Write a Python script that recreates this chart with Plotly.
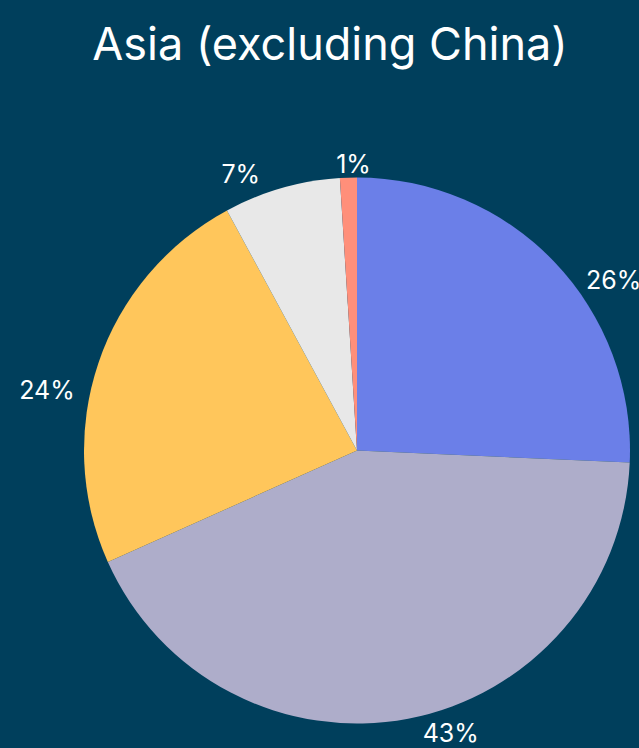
import plotly.graph_objects as go

labels = ["A", "B", "C", "D", "E"]
values = [25.7, 42.6, 23.8, 6.9, 1.0]
colors = ["#6b7fe8", "#aeadca", "#ffc65b", "#e8e8e8", "#ff8f7a"]
title_text = "Asia (excluding China)"

W, H = 639, 748
cx, cy, r = 357, 451, 273
T = 31  # room plotly reserves for the trace title
FS = 25

NB = "\u00a0"
pct = [round(v / sum(values) * 100) for v in values]
# label templates (blank lines / spaces only nudge where plotly places the outside label)
templates = [
    (NB + "<br>") * 3 + "%{percent:.0%}",
    NB + "%{percent:.0%}",
    (NB + "<br>") * 2 + "%{percent:.0%}",
    "%{percent:.0%}" + NB * 2,
    "",
]

fig = go.Figure(go.Pie(
    labels=labels,
    values=values,
    sort=False,
    direction="clockwise",
    rotation=0,
    marker=dict(colors=colors, line=dict(width=0)),
    textposition="outside",
    texttemplate=templates,
    textfont=dict(color="white", size=FS, family="Inter"),
    title=dict(text=f"{pct[4]}%" + NB, position="top center",
               font=dict(color="white", size=FS, family="Inter")),
    showlegend=False,
    hoverinfo="skip",
    domain=dict(x=[(cx - r) / W, (cx + r) / W],
                y=[(H - cy - r) / H, (H - cy + r + T) / H]),
    automargin=False,
))

fig.update_layout(
    width=W, height=H,
    paper_bgcolor="#003f5c",
    plot_bgcolor="#003f5c",
    margin=dict(l=0, r=0, t=0, b=0),
    title=dict(text=title_text, x=330 / W, xanchor="center",
               y=1 - 44 / H, yanchor="middle",
               font=dict(color="white", size=45, family="Inter")),
)

fig.write_html("out.html", config={"displayModeBar": False},
               post_script="document.body.style.margin='0';document.body.style.background='#003f5c';")
